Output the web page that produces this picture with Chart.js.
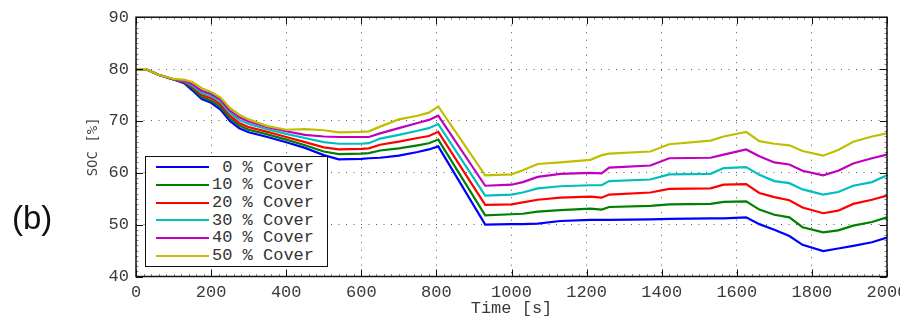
<!DOCTYPE html>
<html>
<head>
<meta charset="utf-8">
<script src="https://cdn.jsdelivr.net/npm/chart.js@4.4.1/dist/chart.umd.min.js"></script>
<style>
html,body{margin:0;padding:0;background:#fff;overflow:hidden;}
#wrap{position:relative;width:900px;height:321px;overflow:hidden;}
#soc{position:absolute;left:0;top:0;}
#legend{position:absolute;left:145px;top:156px;width:183px;height:111px;box-sizing:border-box;
  border:1.5px solid #111;background:#fff;padding-top:1.4px;}
#legend .row{height:17.7px;display:flex;align-items:center;white-space:pre;
  font:17px "Liberation Mono",monospace;color:#333;}
#legend .row i{display:block;width:53px;height:0;border-top:2.2px solid;margin:0 3.5px 0 9.5px;}
</style>
</head>
<body>
<div id="wrap">
  <canvas id="soc" width="920" height="321"></canvas>
  <div id="legend"></div>
</div>
<script>
// time axis [s] and state of charge [%] per cover fraction
const timeS=[0,25,60,100,130,150,175,200,225,250,275,300,350,400,450,500,540,600,620,650,700,750,780,805,
  930,1000,1030,1070,1130,1210,1240,1260,1370,1420,1530,1565,1625,1660,1700,1740,1775,1830,1870,1910,1960,2000];
const soc0 =[80,80,78.9,78.0,77.2,75.9,74.2,73.5,72.2,70.0,68.6,67.8,66.9,65.9,64.8,63.4,62.6,62.7,62.8,62.9,63.3,64.0,64.5,65.1,
  50.0,50.1,50.1,50.2,50.7,50.9,50.9,50.9,51.0,51.1,51.2,51.2,51.4,50.1,49.0,47.8,46.1,44.9,45.4,45.9,46.6,47.5];
const soc10=[80,80,78.9,78.0,77.4,76.3,74.6,73.9,72.7,70.5,69.1,68.3,67.4,66.4,65.3,64.1,63.6,63.7,63.8,64.3,64.7,65.3,65.7,66.4,
  51.8,52.0,52.1,52.5,52.8,53.1,52.9,53.4,53.6,53.9,54.0,54.4,54.5,52.9,51.9,51.4,49.5,48.5,48.9,49.8,50.5,51.4];
const soc20=[80,80,78.9,78.0,77.5,76.6,75.0,74.4,73.2,71.0,69.6,68.8,67.9,66.9,65.9,64.9,64.5,64.6,64.7,65.4,66.0,66.7,67.1,67.9,
  53.8,53.9,54.3,54.8,55.2,55.4,55.2,55.8,56.2,56.9,57.0,57.7,57.8,56.1,55.3,54.7,53.3,52.2,52.7,54.0,54.8,55.6];
const soc30=[80,80,78.9,78.0,77.6,76.8,75.4,74.8,73.7,71.5,70.2,69.4,68.4,67.5,66.7,65.9,65.6,65.6,65.7,66.6,67.3,68.1,68.6,69.4,
  55.6,55.8,56.2,57.0,57.4,57.6,57.6,58.4,58.7,59.7,59.8,60.9,61.1,59.6,58.4,58.0,56.8,55.8,56.3,57.5,58.2,59.5];
const soc40=[80,80,78.9,78.0,77.7,77.1,75.8,75.2,74.1,72.0,70.7,69.9,68.8,68.0,67.3,67.0,66.9,66.9,66.9,67.6,68.6,69.6,70.2,71.0,
  57.5,57.7,58.2,59.2,59.8,60.0,59.9,61.0,61.4,62.8,62.9,63.5,64.5,63.2,62.0,61.6,60.4,59.5,60.4,61.8,62.8,63.5];
const soc50=[80,80,78.9,78.1,77.9,77.5,76.3,75.6,74.5,72.5,71.2,70.3,69.0,68.3,68.4,68.2,67.8,67.9,68.0,68.9,70.3,71.0,71.6,72.8,
  59.5,59.7,60.5,61.7,62.0,62.5,63.4,63.7,64.1,65.5,66.2,67.0,67.9,66.1,65.6,65.3,64.2,63.3,64.4,66.0,67.0,67.6];

const coverLabels=[' 0 % Cover','10 % Cover','20 % Cover','30 % Cover','40 % Cover','50 % Cover'];
const coverSeries=[soc0,soc10,soc20,soc30,soc40,soc50];
const lineColors=['#0000ff','#008000','#ff0000','#00bfbf','#bf00bf','#bfbf00'];
const xTicks=[0,200,400,600,800,1000,1200,1400,1600,1800,2000];
const yTicks=[40,50,60,70,80,90];

const datasets=coverSeries.map((s,i)=>({
  label:coverLabels[i],
  data:timeS.map((t,k)=>({x:t,y:s[k]})),
  borderColor:lineColors[i],
  borderWidth:2.2,
  pointRadius:0,
  tension:0,
  order:coverSeries.length-i   // higher cover drawn on top
}));

// box, inward ticks and panel letter
const frame={id:'frame',afterDraw(chart){
  const {ctx,chartArea:a,scales:{x,y}}=chart;
  ctx.save();
  ctx.lineWidth=1;
  ctx.strokeStyle='#888';
  ctx.beginPath();
  for(let v=0;v<=2000;v+=20){const p=Math.round(x.getPixelForValue(v))+.5;
    ctx.moveTo(p,a.bottom);ctx.lineTo(p,a.bottom-2.5);ctx.moveTo(p,a.top);ctx.lineTo(p,a.top+2.5);}
  for(let v=40;v<=90;v+=1){const p=Math.round(y.getPixelForValue(v))+.5;
    ctx.moveTo(a.left,p);ctx.lineTo(a.left+2.5,p);ctx.moveTo(a.right,p);ctx.lineTo(a.right-2.5,p);}
  ctx.stroke();
  ctx.strokeStyle='#111';
  ctx.beginPath();
  xTicks.forEach(v=>{const p=Math.round(x.getPixelForValue(v))+.5;
    ctx.moveTo(p,a.bottom);ctx.lineTo(p,a.bottom-7);ctx.moveTo(p,a.top);ctx.lineTo(p,a.top+7);});
  yTicks.forEach(v=>{const p=Math.round(y.getPixelForValue(v))+.5;
    ctx.moveTo(a.left,p);ctx.lineTo(a.left+7,p);ctx.moveTo(a.right,p);ctx.lineTo(a.right-7,p);});
  ctx.stroke();
  ctx.lineWidth=1.5;
  ctx.strokeRect(a.left,a.top,a.right-a.left,a.bottom-a.top);
  ctx.fillStyle='#111';
  ctx.font='33px "Liberation Sans", Arial, sans-serif';
  ctx.textBaseline='alphabetic';
  ctx.fillText('(b)',12,229);
  ctx.restore();
}};

const tickFont={family:'"Liberation Mono", monospace',size:17};
const plain=v=>String(v);
const chart=new Chart(document.getElementById('soc').getContext('2d'),{
  type:'line',
  data:{datasets},
  options:{
    responsive:false,animation:false,devicePixelRatio:1,
    layout:{padding:{top:13.5,right:33,left:0,bottom:0}},
    plugins:{legend:{display:false},tooltip:{enabled:false}},
    scales:{
      x:{type:'linear',min:0,max:2000,
        afterBuildTicks:s=>{s.ticks=xTicks.map(v=>({value:v}));},
        afterFit:s=>{s.height=44.5;},
        grid:{color:'#555',lineWidth:1,drawTicks:false},
        border:{display:false,dash:[1,6.5]},
        ticks:{font:tickFont,color:'#3a3a3a',padding:6,maxRotation:0,autoSkip:false,callback:plain},
        title:{display:true,text:'Time [s]',font:tickFont,color:'#3a3a3a',padding:{top:0,bottom:2}}
      },
      y:{min:40,max:90,
        afterBuildTicks:s=>{s.ticks=yTicks.map(v=>({value:v}));},
        afterFit:s=>{s.width=136;},
        grid:{color:'#555',lineWidth:1,drawTicks:false},
        border:{display:false,dash:[1,6.5]},
        ticks:{font:tickFont,color:'#3a3a3a',padding:7,autoSkip:false,callback:plain},
        title:{display:true,text:'SOC [%]',font:{family:'"DejaVu Sans Mono", monospace',size:14},color:'#444',padding:{top:84.6,bottom:0}}
      }
    }
  },
  plugins:[frame]
});

// legend box drawn from the chart's datasets
const legendEl=document.getElementById('legend');
chart.data.datasets.forEach(ds=>{
  const row=document.createElement('div');row.className='row';
  const sw=document.createElement('i');sw.style.borderTopColor=ds.borderColor;
  const tx=document.createElement('span');tx.textContent=ds.label;
  row.append(sw,tx);legendEl.append(row);
});
</script>
</body>
</html>
